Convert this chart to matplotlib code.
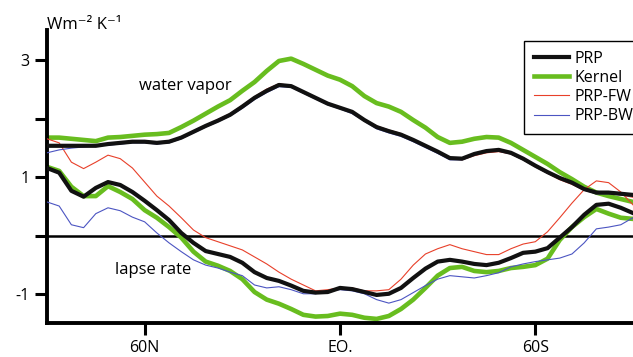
import numpy as np
import matplotlib
matplotlib.use('Agg')
import matplotlib.pyplot as plt

plt.rcParams['font.family'] = ['Open Sans', 'DejaVu Sans']

# latitude grid, north pole to south pole
lat = np.linspace(90, -90, 49)

# water vapor feedback (W m-2 K-1)
wv_prp = [1.54, 1.54, 1.54, 1.54, 1.54, 1.57, 1.59, 1.61, 1.61, 1.59, 1.61, 1.68, 1.78,
          1.88, 1.97, 2.07, 2.21, 2.36, 2.48, 2.58, 2.56, 2.46, 2.36, 2.26, 2.19, 2.12,
          1.98, 1.86, 1.79, 1.73, 1.64, 1.54, 1.44, 1.33, 1.32, 1.40, 1.45, 1.47, 1.42,
          1.32, 1.20, 1.09, 0.99, 0.91, 0.80, 0.74, 0.74, 0.72, 0.70]
wv_kernel = [1.68, 1.68, 1.66, 1.64, 1.62, 1.68, 1.69, 1.71, 1.73, 1.74, 1.76, 1.86, 1.97,
             2.09, 2.21, 2.32, 2.48, 2.63, 2.82, 2.99, 3.03, 2.94, 2.84, 2.74, 2.67, 2.56,
             2.39, 2.27, 2.21, 2.12, 1.98, 1.85, 1.69, 1.59, 1.61, 1.66, 1.69, 1.68, 1.59,
             1.47, 1.35, 1.23, 1.09, 0.97, 0.84, 0.74, 0.68, 0.63, 0.58]
wv_fw = [1.55, 1.55, 1.55, 1.54, 1.54, 1.56, 1.58, 1.60, 1.60, 1.58, 1.60, 1.68, 1.79,
         1.89, 1.99, 2.09, 2.23, 2.38, 2.51, 2.60, 2.57, 2.46, 2.36, 2.26, 2.19, 2.12,
         1.99, 1.88, 1.81, 1.75, 1.65, 1.55, 1.43, 1.32, 1.30, 1.37, 1.42, 1.44, 1.40,
         1.30, 1.18, 1.07, 0.96, 0.88, 0.78, 0.74, 0.73, 0.70, 0.66]
wv_bw = [1.42, 1.47, 1.50, 1.52, 1.54, 1.55, 1.57, 1.59, 1.59, 1.57, 1.59, 1.66, 1.76,
         1.86, 1.95, 2.05, 2.18, 2.33, 2.45, 2.55, 2.54, 2.44, 2.34, 2.24, 2.17, 2.09,
         1.96, 1.83, 1.76, 1.70, 1.61, 1.51, 1.41, 1.30, 1.30, 1.38, 1.44, 1.45, 1.40,
         1.30, 1.18, 1.07, 0.97, 0.89, 0.78, 0.72, 0.72, 0.70, 0.68]

# lapse rate feedback (W m-2 K-1)
lr_prp = [1.16, 1.08, 0.77, 0.67, 0.82, 0.92, 0.87, 0.75, 0.60, 0.44, 0.27, 0.05, -0.12,
          -0.26, -0.31, -0.36, -0.46, -0.62, -0.72, -0.77, -0.85, -0.94, -0.97, -0.96, -0.89,
          -0.91, -0.96, -1.01, -0.99, -0.89, -0.72, -0.56, -0.44, -0.41, -0.44, -0.48, -0.50,
          -0.46, -0.38, -0.29, -0.27, -0.21, -0.03, 0.15, 0.36, 0.53, 0.55, 0.48, 0.39]
lr_kernel = [1.18, 1.11, 0.84, 0.68, 0.68, 0.85, 0.75, 0.63, 0.44, 0.31, 0.15, -0.03, -0.27,
             -0.44, -0.51, -0.60, -0.74, -0.96, -1.09, -1.16, -1.25, -1.35, -1.38, -1.37, -1.33,
             -1.35, -1.40, -1.42, -1.37, -1.25, -1.09, -0.89, -0.68, -0.55, -0.53, -0.60, -0.62,
             -0.60, -0.55, -0.53, -0.50, -0.39, -0.07, 0.15, 0.32, 0.46, 0.38, 0.31, 0.29]
lr_fw = [1.66, 1.59, 1.26, 1.15, 1.26, 1.38, 1.32, 1.16, 0.92, 0.68, 0.51, 0.31, 0.10,
         -0.03, -0.10, -0.17, -0.24, -0.36, -0.48, -0.62, -0.74, -0.84, -0.94, -0.92, -0.89,
         -0.89, -0.94, -0.94, -0.92, -0.74, -0.50, -0.31, -0.22, -0.15, -0.22, -0.27, -0.32,
         -0.32, -0.22, -0.14, -0.10, 0.07, 0.31, 0.56, 0.79, 0.94, 0.91, 0.75, 0.53]
lr_bw = [0.58, 0.51, 0.19, 0.14, 0.38, 0.48, 0.43, 0.32, 0.24, 0.05, -0.12, -0.27, -0.41,
         -0.50, -0.55, -0.62, -0.68, -0.84, -0.89, -0.87, -0.92, -0.99, -0.99, -0.94, -0.92,
         -0.94, -0.99, -1.09, -1.15, -1.09, -0.97, -0.85, -0.74, -0.68, -0.70, -0.72, -0.68,
         -0.63, -0.53, -0.48, -0.44, -0.41, -0.38, -0.31, -0.12, 0.12, 0.15, 0.19, 0.31]

black = '#111111'
green = '#68bd1f'
red = '#e8402a'
blue = '#4c55c2'

fig = plt.figure(figsize=(6.33, 3.57), dpi=100)
ax = fig.add_axes([0.0742, 0.0952, 0.9258, 0.8208])

ax.axhline(0, color='black', lw=1.8, zorder=1)

for wv, lr, c, lw, z, name in [
        (wv_kernel, lr_kernel, green, 3.3, 2, 'Kernel'),
        (wv_fw, lr_fw, red, 0.8, 3, 'PRP-FW'),
        (wv_bw, lr_bw, blue, 0.8, 3, 'PRP-BW'),
        (wv_prp, lr_prp, black, 3.0, 4, 'PRP')]:
    ax.plot(lat, wv, color=c, lw=lw, zorder=z, label=name, solid_joinstyle='round')
    ax.plot(lat, lr, color=c, lw=lw, zorder=z, solid_joinstyle='round')

ax.set_xlim(90, -90)
ax.set_ylim(-1.49, 3.52)

ax.set_xticks([60, 0, -60])
ax.set_xticklabels(['60N', 'EO.', '60S'])
ax.set_yticks([3, 2, 1, 0, -1])
ax.set_yticklabels(['3', '', '1', '', '-1'])
ax.tick_params(axis='both', direction='out', length=8.5, width=2.2, labelsize=11.5, pad=4)

for s in ['top', 'right']:
    ax.spines[s].set_visible(False)
for s in ['left', 'bottom']:
    ax.spines[s].set_linewidth(2.8)

# curve group labels, placed by axes fraction in x
ax.text(0.236, 2.57, 'water vapor', fontsize=12, ha='center', va='center',
        transform=ax.get_yaxis_transform())
ax.text(0.181, -0.59, 'lapse rate', fontsize=12, ha='center', va='center',
        transform=ax.get_yaxis_transform())
fig.text(0.074, 0.93, 'Wm⁻² K⁻¹', fontsize=12, ha='left', va='center')

handles, labels = ax.get_legend_handles_labels()
order = [3, 0, 1, 2]
leg = ax.legend([handles[i] for i in order], [labels[i] for i in order],
                loc='upper left', bbox_to_anchor=(0.828, 0.885),
                bbox_transform=fig.transFigure, borderaxespad=0,
                fontsize=11.5, handlelength=2.2, handletextpad=0.35,
                labelspacing=0.2, borderpad=0.6, fancybox=False, framealpha=1)
leg.get_frame().set_edgecolor('black')
leg.get_frame().set_linewidth(1.0)

fig.savefig('out.png', dpi=100)
